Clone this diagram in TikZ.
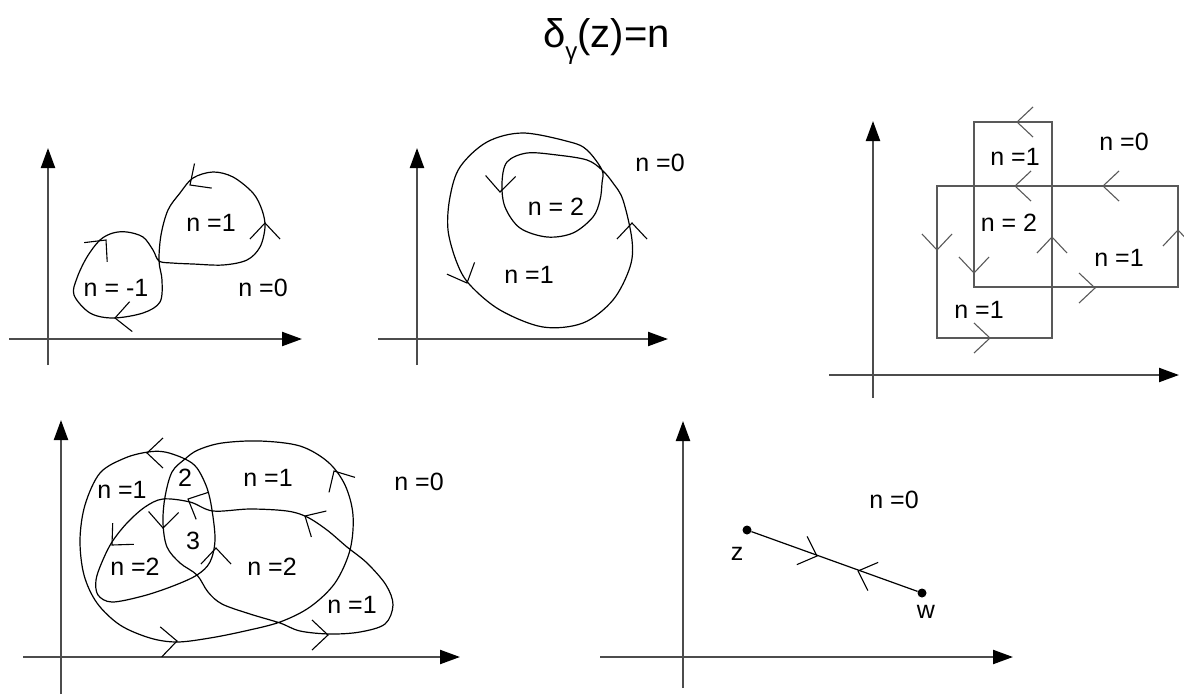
\documentclass[tikz,border=0pt]{standalone}
\usepackage{fontspec}
\setmainfont{Liberation Sans}
\usetikzlibrary{arrows.meta}
\begin{document}
\begin{tikzpicture}[x=1pt,y=-1pt,
  axis/.style={draw=black!70,line width=2.2pt,-{Triangle[length=20pt,width=14pt,color=black]}},
  curve/.style={draw=black,line width=1.2pt,line join=round},
  poly/.style={draw=black!65,line width=1.4pt},
  lbl/.style={font=\fontsize{25}{29}\selectfont,inner sep=0pt},
  dot/.style={circle,fill=black,inner sep=0pt,minimum size=9pt},
  chev/.pic={\draw[line width=1.1pt] (-16,15) -- (0,0) -- (-16,-15);}
]
\useasboundingbox (0,0) rectangle (1184,694);

% title
\node[font=\fontsize{40}{46}\selectfont,anchor=base west,inner sep=0pt] (title) at (543,47)
  {δ\raisebox{-0.3em}{\fontsize{24}{28}\selectfont γ}(z)=n};

% ---------- panel 1 ----------
\draw[axis] (48,365) -- (48,148);
\draw[axis] (9,339) -- (302,339);
\draw[curve] plot[smooth cycle,tension=0.55] coordinates {
 (159,261) (172,263) (193,264) (223,265) (247,260) (260,247) (265,227) (262,210)
 (253,193) (233,177) (213,172) (193,178) (180,193) (168,210) (161,235)
 (159,261) (162,280) (160,302) (143,313) (113,318) (90,313) (74,295) (77,278)
 (87,257) (100,240) (113,233) (127,232) (143,237) (153,250)};
\pic[rotate=50] at (106,240) {chev};
\pic[rotate=185] at (115,318) {chev};
\pic[rotate=215] at (190,185) {chev};
\pic[rotate=90] at (265,223) {chev};
\node[lbl] (p1a) at (116,288) {n = -1};
\node[lbl] (p1b) at (211,223) {n =1};
\node[lbl] (p1c) at (263,288) {n =0};

% ---------- panel 2 ----------
\draw[axis] (417,365) -- (417,148);
\draw[axis] (378,339) -- (668,339);
\draw[curve] plot[smooth cycle,tension=0.55] coordinates {
 (602,170) (587,160) (557,155) (527,153) (507,162) (502,183) (505,207) (520,228)
 (547,237) (573,233) (593,217) (600,200) (602,183)
 (602,170) (587,150) (570,142) (523,133) (487,142) (460,167) (450,197) (448,230)
 (457,263) (470,285) (500,310) (543,327) (583,323) (613,300) (630,267) (632,240)
 (623,200) (613,183)};
\pic[rotate=268] at (500,192) {chev};
\pic[rotate=293] at (467,283) {chev};
\pic[rotate=90] at (632,223) {chev};
\node[lbl] (p2a) at (660,163) {n =0};
\node[lbl] (p2b) at (556,207) {n = 2};
\node[lbl] (p2c) at (529,275) {n =1};

% ---------- panel 3 ----------
\draw[axis] (873,398) -- (873,121);
\draw[axis] (829,375) -- (1179,375);
\draw[poly] (1052,122) -- (974,122) -- (974,287) -- (1178,287) -- (1178,186)
  -- (937,186) -- (937,338) -- (1052,338) -- cycle;
\begin{scope}[black!65]
\pic[rotate=180] at (1017,122) {chev};
\pic[rotate=180] at (1015,186) {chev};
\pic[rotate=180] at (1103,186) {chev};
\pic[rotate=270] at (937,250) {chev};
\pic[rotate=270] at (974,273) {chev};
\pic[rotate=0] at (1095,288) {chev};
\pic[rotate=90] at (1178,230) {chev};
\pic[rotate=90] at (1052,237) {chev};
\pic[rotate=0] at (990,338) {chev};
\end{scope}
\node[lbl] (p3a) at (1015,157) {n =1};
\node[lbl] (p3b) at (1124,142) {n =0};
\node[lbl] (p3c) at (1009,223) {n = 2};
\node[lbl] (p3d) at (1119,258) {n =1};
\node[lbl] (p3e) at (979,310) {n =1};

% ---------- panel 4 ----------
\draw[axis] (61,694) -- (61,420);
\draw[axis] (23,657) -- (460,657);
\draw[curve] plot[smooth cycle,tension=0.55] coordinates {
 (185,459) (165,452) (148,452) (125,458) (100,473) (85,505) (80,540) (84,575)
 (97,603) (120,625) (150,638) (177,642) (210,638) (245,631) (280,622) (310,607)
 (335,583) (350,550) (353,515) (345,485) (328,462) (300,446) (260,441) (222,443)
 (198,450)
 (185,459) (172,472) (165,497) (163,523) (167,547) (180,563) (197,575) (208,592)
 (222,604) (250,614) (280,623) (300,631) (330,634) (360,632) (385,624) (393,605)
 (386,585) (367,563) (347,547) (327,530) (307,517) (287,511) (250,509) (213,511)
 (190,502) (163,499) (145,507) (127,523) (112,542) (102,562) (96,580) (98,595)
 (112,602) (143,596) (173,586) (197,575) (210,562) (215,540) (212,510) (207,488)
 (197,468)};
\pic[rotate=180] at (147,453) {chev};
\pic[rotate=120] at (334,471) {chev};
\pic[rotate=150] at (305,516) {chev};
\pic[rotate=155] at (188,499) {chev};
\pic[rotate=225] at (112,545) {chev};
\pic[rotate=268] at (163,528) {chev};
\pic[rotate=90] at (216,548) {chev};
\pic[rotate=3] at (177,641) {chev};
\pic[rotate=0] at (328,635) {chev};
\node[lbl] (p4a) at (122,490) {n =1};
\node[lbl] (p4b) at (185,478) {2};
\node[lbl] (p4c) at (268,478) {n =1};
\node[lbl] (p4d) at (419,482) {n =0};
\node[lbl] (p4e) at (193,541) {3};
\node[lbl] (p4f) at (135,567) {n =2};
\node[lbl] (p4g) at (272,567) {n =2};
\node[lbl] (p4h) at (352,605) {n =1};

% ---------- panel 5 ----------
\draw[axis] (683,688) -- (683,421);
\draw[axis] (600,657) -- (1013,657);
\node[dot] (z) at (747,530) {};
\node[dot] (w) at (922,593) {};
\draw[curve] (z) -- (w);
\pic[rotate=-20] at (817,556) {chev};
\pic[rotate=160] at (858,571) {chev};
\node[lbl] (zl) at (737,554) {z};
\node[lbl] (wl) at (926,612) {w};
\node[lbl] (p5a) at (894,500) {n =0};
\end{tikzpicture}
\end{document}
